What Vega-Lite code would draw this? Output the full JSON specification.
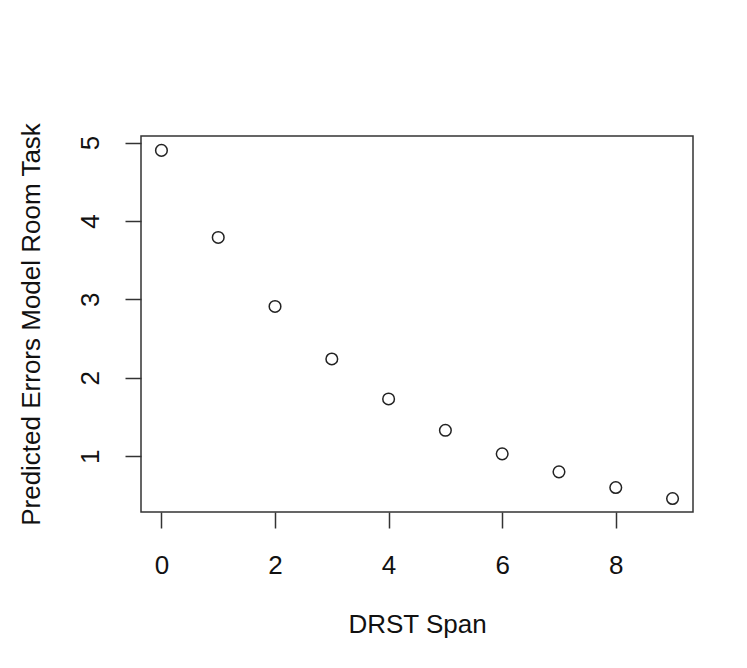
{
  "$schema": "https://vega.github.io/schema/vega-lite/v6.json",
  "autosize": "none",
  "width": 552,
  "height": 376,
  "padding": {"left": 141, "top": 136, "right": 54, "bottom": 156},
  "background": "white",
  "config": {
    "view": {"stroke": "#333333", "strokeWidth": 1.5},
    "font": "Liberation Sans"
  },
  "data": {
    "values": [
      {"span": 0, "errors": 4.90},
      {"span": 1, "errors": 3.79},
      {"span": 2, "errors": 2.91},
      {"span": 3, "errors": 2.24},
      {"span": 4, "errors": 1.73},
      {"span": 5, "errors": 1.33},
      {"span": 6, "errors": 1.03},
      {"span": 7, "errors": 0.80},
      {"span": 8, "errors": 0.60},
      {"span": 9, "errors": 0.46}
    ]
  },
  "mark": {
    "type": "point",
    "shape": "circle",
    "filled": false,
    "size": 135,
    "stroke": "#222222",
    "strokeWidth": 1.5,
    "opacity": 1
  },
  "encoding": {
    "x": {
      "field": "span",
      "type": "quantitative",
      "scale": {"domain": [-0.36, 9.36], "nice": false, "zero": false},
      "axis": {
        "values": [0, 2, 4, 6, 8],
        "title": "DRST Span",
        "grid": false,
        "domain": false,
        "tickSize": 16,
        "tickColor": "#333333",
        "tickWidth": 1.5,
        "labelFontSize": 26,
        "labelColor": "#111111",
        "labelBaseline": "alphabetic",
        "labelPadding": 45,
        "labelFlush": false,
        "labelOverlap": false,
        "titleFontSize": 26,
        "titleFontWeight": "normal",
        "titleColor": "#111111",
        "titlePadding": 33
      }
    },
    "y": {
      "field": "errors",
      "type": "quantitative",
      "scale": {"domain": [0.288, 5.084], "nice": false, "zero": false},
      "axis": {
        "values": [1, 2, 3, 4, 5],
        "title": "Predicted Errors Model Room Task",
        "grid": false,
        "domain": false,
        "tickSize": 16,
        "tickColor": "#333333",
        "tickWidth": 1.5,
        "labelFontSize": 26,
        "labelColor": "#111111",
        "labelAngle": -90,
        "labelAlign": "center",
        "labelBaseline": "alphabetic",
        "labelPadding": 27,
        "labelFlush": false,
        "labelOverlap": false,
        "titleFontSize": 26,
        "titleFontWeight": "normal",
        "titleColor": "#111111",
        "titlePadding": 33
      }
    }
  }
}
